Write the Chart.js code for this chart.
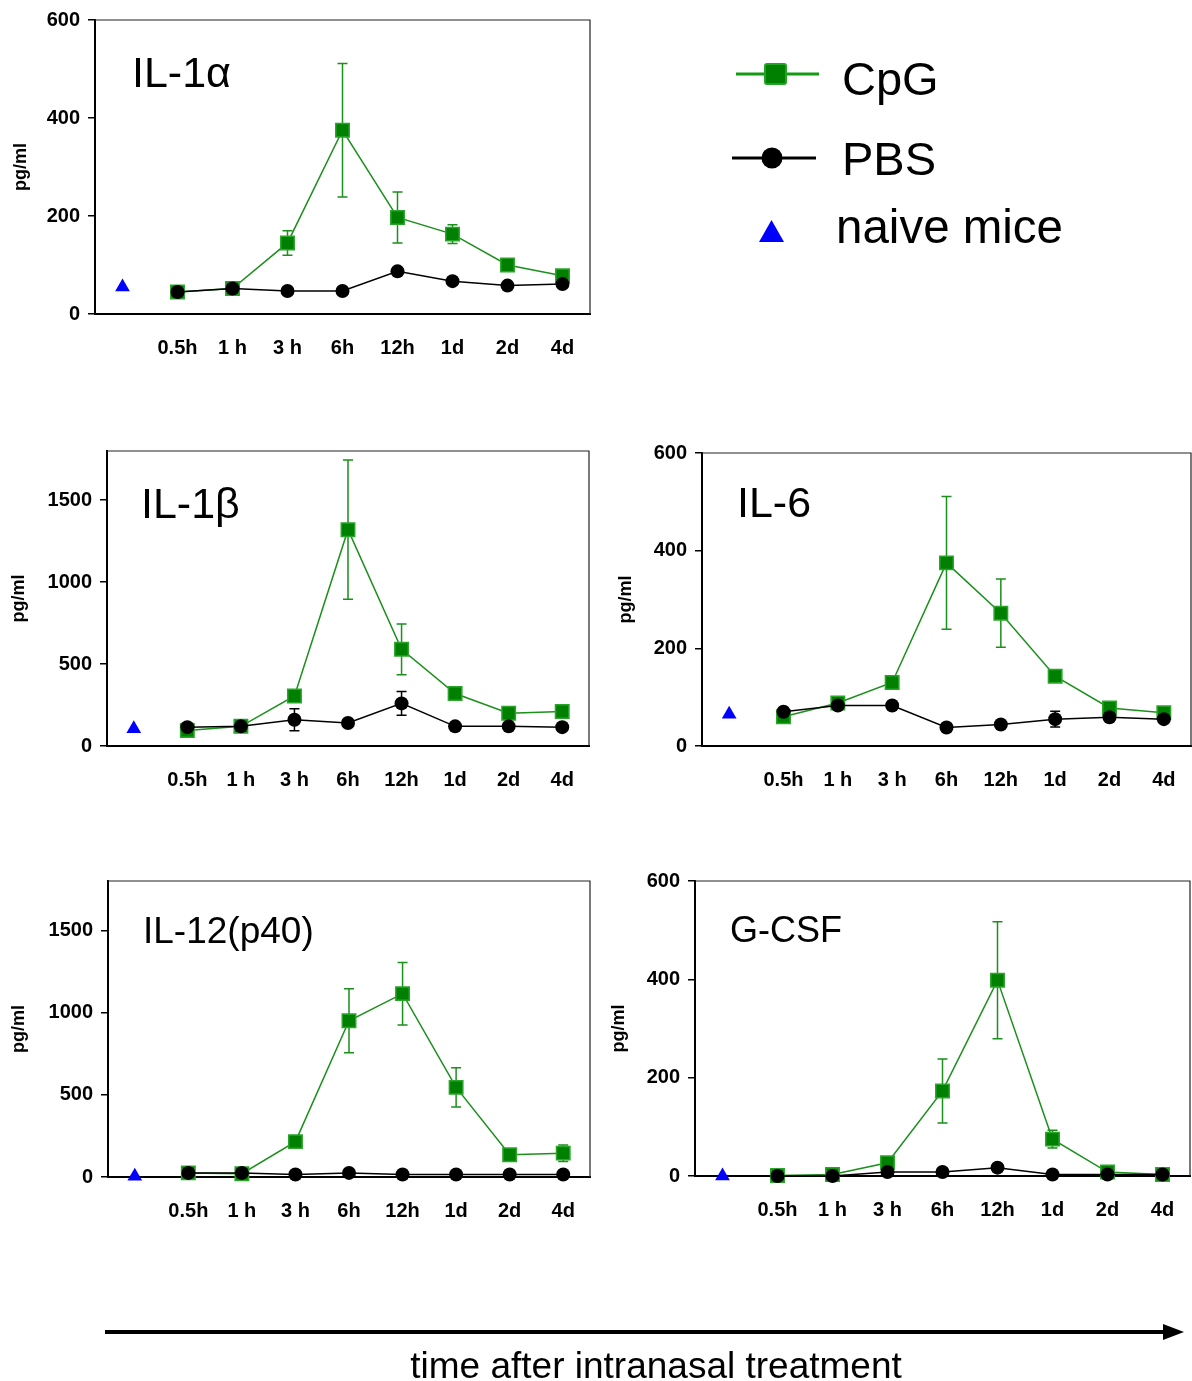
<!DOCTYPE html>
<html>
<head>
<meta charset="utf-8">
<script src="https://cdn.jsdelivr.net/npm/chart.js@4.4.1/dist/chart.umd.min.js"></script>
<style>
  body { margin: 0; background: #fff; }
  #page { position: relative; width: 1192px; height: 1381px; overflow: hidden; background: #fff; }
  #page canvas { position: absolute; }
  #overlay { position: absolute; left: 0; top: 0; }
</style>
</head>
<body>
<div id="page">
  <canvas id="il1a" width="600" height="380" style="left:0;top:0"></canvas>
  <canvas id="il1b" width="600" height="380" style="left:0;top:430px"></canvas>
  <canvas id="il6" width="592" height="380" style="left:600px;top:430px"></canvas>
  <canvas id="il12" width="600" height="380" style="left:0;top:860px"></canvas>
  <canvas id="gcsf" width="592" height="380" style="left:600px;top:860px"></canvas>

  <svg id="overlay" width="1192" height="1381" font-family="'Liberation Sans', Arial, sans-serif">
    <!-- legend -->
    <line x1="736" y1="74" x2="819" y2="74" stroke="#139a13" stroke-width="3"/>
    <rect x="765" y="64" width="21" height="20" rx="2" fill="#008000" stroke="#22a322" stroke-width="2"/>
    <text x="842" y="95" font-size="47">CpG</text>
    <line x1="732" y1="158" x2="816" y2="158" stroke="#000" stroke-width="3"/>
    <circle cx="772" cy="158" r="10.5" fill="#000"/>
    <text x="842" y="175" font-size="47">PBS</text>
    <polygon points="759,242 784,242 771.5,220" fill="#0000ff"/>
    <text x="836" y="243" font-size="47.5">naive mice</text>
    <!-- time arrow -->
    <line x1="105" y1="1332" x2="1166" y2="1332" stroke="#000" stroke-width="4"/>
    <polygon points="1184,1332 1163,1324 1163,1340" fill="#000"/>
    <text x="656" y="1378" font-size="37" text-anchor="middle">time after intranasal treatment</text>
  </svg>
</div>

<script>
const timeLabels = ['', '0.5h', '1 h', '3 h', '6h', '12h', '1d', '2d', '4d'];
const ticks600 = [0, 200, 400, 600];
const ticks1800 = [0, 500, 1000, 1500];

// IL-1alpha
const il1aNaive = 55;
const il1aCpG = [45, 52, 145, 375, 197, 163, 100, 78];
const il1aCpGErr = [0, 0, 25, 136, 52, 19, 0, 0];
const il1aPBS = [45, 52, 47, 47, 87, 67, 58, 61];
const il1aPBSErr = [0, 0, 0, 0, 0, 0, 0, 0];

// IL-1beta
const il1bNaive = 105;
const il1bCpG = [95, 120, 305, 1320, 590, 320, 200, 210];
const il1bCpGErr = [0, 0, 0, 425, 155, 0, 0, 0];
const il1bPBS = [115, 120, 160, 140, 260, 120, 120, 115];
const il1bPBSErr = [0, 0, 67, 0, 72, 0, 0, 0];

// IL-6
const il6Naive = 65;
const il6CpG = [60, 88, 130, 375, 272, 143, 78, 68];
const il6CpGErr = [0, 0, 0, 136, 70, 0, 0, 0];
const il6PBS = [70, 83, 83, 38, 44, 55, 59, 55];
const il6PBSErr = [0, 0, 0, 0, 0, 16, 0, 0];

// IL-12(p40)
const il12Naive = 5;
const il12CpG = [25, 20, 215, 950, 1115, 545, 135, 145];
const il12CpGErr = [0, 0, 25, 195, 190, 120, 0, 50];
const il12PBS = [25, 25, 15, 25, 15, 15, 15, 15];
const il12PBSErr = [0, 0, 0, 0, 0, 0, 0, 0];

// G-CSF
const gcsfNaive = 0;
const gcsfCpG = [1, 3, 27, 173, 398, 75, 8, 3];
const gcsfCpGErr = [0, 0, 0, 65, 119, 18, 0, 0];
const gcsfPBS = [0, 0, 8, 8, 17, 3, 3, 3];
const gcsfPBSErr = [0, 0, 0, 0, 0, 0, 0, 0];

const FONT = "'Liberation Sans', Arial, sans-serif";
const GREEN = '#008000';

// error bars drawn under the markers
const errorBars = {
  id: 'errorBars',
  beforeDatasetsDraw(chart) {
    const { ctx, scales: { x, y } } = chart;
    chart.data.datasets.forEach(ds => {
      if (!ds.errors) return;
      ctx.save();
      ctx.strokeStyle = ds.errColor;
      ctx.lineWidth = 1.5;
      ds.data.forEach((v, j) => {
        const e = ds.errors[j];
        if (v == null || !e) return;
        const px = x.getPixelForValue(j);
        const hi = y.getPixelForValue(v + e);
        const lo = y.getPixelForValue(Math.max(v - e, 0));
        ctx.beginPath();
        ctx.moveTo(px, hi); ctx.lineTo(px, lo);
        ctx.moveTo(px - 5, hi); ctx.lineTo(px + 5, hi);
        ctx.moveTo(px - 5, lo); ctx.lineTo(px + 5, lo);
        ctx.stroke();
      });
      ctx.restore();
    });
  }
};

// frame on top / right and the panel name
const panelDecor = {
  id: 'panelDecor',
  afterDraw(chart, args, opts) {
    const { ctx, chartArea: a } = chart;
    ctx.save();
    ctx.strokeStyle = '#222';
    ctx.lineWidth = 1.2;
    ctx.beginPath();
    ctx.moveTo(a.left, a.top); ctx.lineTo(a.right, a.top); ctx.lineTo(a.right, a.bottom);
    ctx.stroke();
    ctx.fillStyle = '#000';
    ctx.font = opts.size + 'px ' + FONT;
    ctx.textBaseline = 'alphabetic';
    ctx.fillText(opts.text, opts.x, opts.y);
    ctx.restore();
  }
};

function makePanel(id, p) {
  const canvas = document.getElementById(id);
  const W = canvas.width, H = canvas.height;
  const pad = n => [null].concat(n);
  return new Chart(canvas, {
    type: 'line',
    data: {
      labels: timeLabels,
      datasets: [
        {
          label: 'PBS',
          data: pad(p.pbs),
          errors: pad(p.pbsErr),
          errColor: '#000',
          borderColor: '#000',
          borderWidth: 1.5,
          pointStyle: 'circle',
          pointRadius: 7,
          pointBackgroundColor: '#000',
          pointBorderColor: '#000',
          pointBorderWidth: 0,
          clip: false
        },
        {
          label: 'CpG',
          data: pad(p.cpg),
          errors: pad(p.cpgErr),
          errColor: '#1c8f1c',
          borderColor: '#1c8f1c',
          borderWidth: 1.5,
          pointStyle: 'rect',
          pointRadius: 9.5,
          pointBackgroundColor: GREEN,
          pointBorderColor: '#2aa52a',
          pointBorderWidth: 1.5,
          clip: false
        },
        {
          label: 'naive mice',
          data: [p.naive].concat(p.cpg.map(() => null)),
          showLine: false,
          pointStyle: 'triangle',
          pointRadius: 8.5,
          pointBackgroundColor: '#0000ff',
          pointBorderColor: '#0000ff',
          pointBorderWidth: 0,
          clip: false
        }
      ]
    },
    options: {
      responsive: false,
      animation: false,
      events: [],
      layout: {
        autoPadding: false,
        padding: { top: p.box.top, right: W - p.box.right, left: 0, bottom: 0 }
      },
      plugins: {
        legend: { display: false },
        tooltip: { enabled: false },
        panelDecor: p.title
      },
      scales: {
        x: {
          type: 'category',
          offset: true,
          afterFit: s => {
            s.height = H - p.box.bottom;
            s.paddingLeft = 0;
            s.paddingRight = 0;
          },
          grid: { display: false },
          border: { color: '#000', width: 2 },
          ticks: {
            color: '#000',
            padding: 14,
            autoSkip: false,
            maxRotation: 0,
            font: { family: FONT, size: 20, weight: 'bold' }
          }
        },
        y: {
          min: 0,
          max: p.yMax,
          afterFit: s => { s.width = p.box.left; },
          afterBuildTicks: s => { s.ticks = p.yTicks.map(v => ({ value: v })); },
          grid: { drawOnChartArea: false, tickLength: 7, color: '#000', lineWidth: 1.5 },
          border: { color: '#000', width: 2 },
          ticks: {
            color: '#000',
            padding: 8,
            callback: v => String(v),
            font: { family: FONT, size: 20, weight: 'bold' }
          },
          title: {
            display: true,
            text: 'pg/ml',
            color: '#000',
            padding: { top: p.titlePad, bottom: 0 },
            font: { family: FONT, size: 18, weight: 'bold' }
          }
        }
      }
    },
    plugins: [errorBars, panelDecor]
  });
}

makePanel('il1a', {
  naive: il1aNaive, cpg: il1aCpG, cpgErr: il1aCpGErr, pbs: il1aPBS, pbsErr: il1aPBSErr,
  yMax: 600, yTicks: ticks600, titlePad: 10,
  box: { left: 95, top: 20, right: 590, bottom: 314 },
  title: { text: 'IL-1\u03b1', size: 43, x: 132, y: 87 }
});
makePanel('il1b', {
  naive: il1bNaive, cpg: il1bCpG, cpgErr: il1bCpGErr, pbs: il1bPBS, pbsErr: il1bPBSErr,
  yMax: 1800, yTicks: ticks1800, titlePad: 8,
  box: { left: 107, top: 21, right: 589, bottom: 316 },
  title: { text: 'IL-1\u03b2', size: 43, x: 141, y: 88 }
});
makePanel('il6', {
  naive: il6Naive, cpg: il6CpG, cpgErr: il6CpGErr, pbs: il6PBS, pbsErr: il6PBSErr,
  yMax: 600, yTicks: ticks600, titlePad: 15,
  box: { left: 102, top: 23, right: 591, bottom: 316 },
  title: { text: 'IL-6', size: 43, x: 137, y: 87 }
});
makePanel('il12', {
  naive: il12Naive, cpg: il12CpG, cpgErr: il12CpGErr, pbs: il12PBS, pbsErr: il12PBSErr,
  yMax: 1800, yTicks: ticks1800, titlePad: 8,
  box: { left: 108, top: 21, right: 590, bottom: 317 },
  title: { text: 'IL-12(p40)', size: 37, x: 143, y: 83 }
});
makePanel('gcsf', {
  naive: gcsfNaive, cpg: gcsfCpG, cpgErr: gcsfCpGErr, pbs: gcsfPBS, pbsErr: gcsfPBSErr,
  yMax: 600, yTicks: ticks600, titlePad: 8,
  box: { left: 95, top: 21, right: 590, bottom: 316 },
  title: { text: 'G-CSF', size: 36, x: 130, y: 82 }
});
</script>
</body>
</html>
